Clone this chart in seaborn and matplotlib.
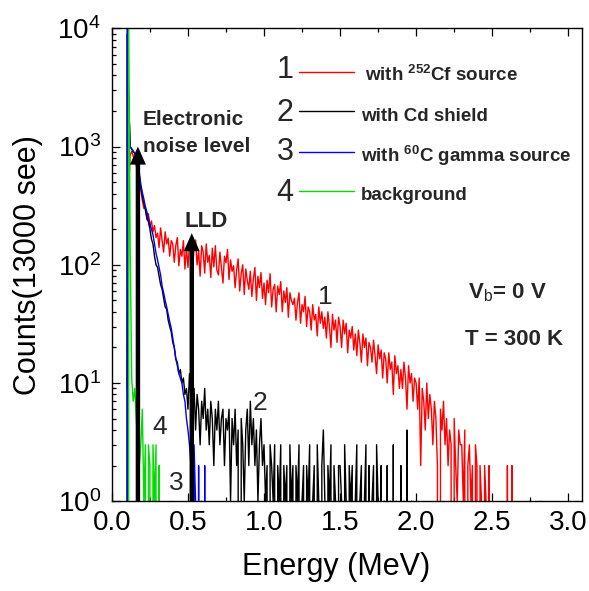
import numpy as np
import pandas as pd
import matplotlib
matplotlib.use("Agg")
import matplotlib.pyplot as plt
from matplotlib.ticker import MultipleLocator, LogLocator, FormatStrFormatter
import seaborn as sns

# ---------------- data ----------------
series_names = ["with 252Cf source", "with Cd shield", "with 60C gamma source", "background"]
series_colors = ["#ff0000", "#000000", "#0000ff", "#00dd00"]

# channel energies (MeV), 0.01 MeV channels
energy_red = np.round(np.arange(0.10, 2.855, 0.01), 2)
energy_black = np.round(np.arange(0.09, 3.085, 0.01), 2)
energy_blue = np.round(np.arange(0.09, 0.695, 0.01), 2)
energy_green = np.round(np.arange(0.09, 0.405, 0.01), 2)

counts_red = [
    9, 450, 850, 910, 830, 770, 690, 610, 530, 430,
    350, 300, 310, 240, 270, 210, 235, 190, 215, 170,
    185, 140, 205, 160, 128, 190, 150, 168, 118, 160,
    150, 105, 145, 170, 98, 135, 118, 160, 92, 140,
    95, 150, 125, 88, 140, 162, 100, 130, 80, 145,
    128, 85, 150, 105, 120, 78, 138, 96, 145, 90,
    82, 128, 95, 70, 118, 104, 135, 75, 110, 88,
    98, 64, 90, 112, 60, 84, 100, 56, 92, 74,
    62, 88, 54, 76, 95, 50, 80, 64, 86, 52,
    70, 46, 74, 58, 84, 44, 62, 68, 40, 66,
    56, 72, 40, 60, 48, 64, 36, 58, 50, 46,
    52, 34, 48, 58, 32, 46, 40, 54, 30, 44,
    40, 28, 46, 34, 38, 25, 44, 32, 40, 29,
    36, 24, 40, 30, 20, 38, 28, 34, 22, 36,
    30, 20, 34, 26, 32, 18, 28, 24, 30, 19,
    26, 17, 28, 22, 15, 26, 20, 24, 14, 22,
    20, 15, 23, 17, 12, 21, 16, 19, 11, 18,
    16, 10, 18, 13, 15, 8, 17, 12, 14, 9,
    13, 9, 15, 11, 6, 14, 10, 12, 7, 11,
    10, 6, 11, 2, 9, 7, 4, 10, 5, 8,
    6, 3, 7, 5, 2, 0, 6, 4, 7, 3,
    5, 2, 4, 3, 0, 5, 2, 1, 4, 3,
    3, 1, 4, 0, 2, 3, 1, 2, 0, 3,
    2, 0, 2, 1, 0, 2, 1, 0, 2, 0,
    0, 0, 0, 0, 0, 0, 0, 0, 0, 0,
    2, 0, 0, 2, 0, 0, 0, 0, 0, 0,
    0, 0, 0, 0, 0, 0, 0, 0, 0, 0,
    0, 0, 1, 0, 0, 0,
]

counts_black = [
    0,
    9000, 2500, 1000, 950, 900, 880, 820, 700, 560, 450,
    380, 330, 290, 250, 230, 200, 165, 150, 118, 100,
    95, 80, 68, 62, 52, 44, 42, 34, 30, 27,
    22, 20, 16, 15, 12, 13, 10, 11, 8, 9,
    6, 12, 7, 5, 9, 4, 8, 6, 3, 7,
    5, 9, 4, 6, 3, 7, 5, 2, 6, 4,
    7, 3, 5, 6, 2, 5, 4, 6, 1, 5,
    3, 6, 2, 4, 0, 5, 3, 1, 4, 6,
    2, 7, 3, 5, 2, 4, 1, 3, 5, 2,
    3, 1, 2, 0, 3, 2, 1, 3, 0, 2,
    1, 3, 0, 2, 1, 2, 0, 3, 1, 2,
    0, 2, 1, 3, 0, 1, 2, 0, 2, 1,
    3, 0, 1, 2, 0, 3, 1, 0, 2, 4,
    1, 0, 2, 1, 3, 0, 2, 1, 0, 2,
    2, 1, 0, 3, 1, 0, 2, 1, 2, 0,
    1, 3, 0, 1, 2, 0, 1, 3, 0, 2,
    0, 1, 2, 0, 3, 1, 0, 2, 0, 1,
    0, 2, 0, 1, 0, 3, 0, 1, 0, 0,
    2, 0, 1, 0, 4, 0, 0, 1, 0, 0,
    0, 0, 0, 0, 0, 0, 0, 0, 0, 0,
    0, 0, 0, 0, 0, 0, 0, 0, 0, 0,
    0, 0, 0, 0, 0, 0, 0, 0, 0, 0,
    0, 0, 0, 0, 0, 0, 0, 0, 0, 0,
    0, 0, 0, 0, 0, 0, 0, 0, 0, 0,
    0, 0, 0, 0, 0, 0, 0, 0, 0, 0,
    0, 0, 0, 0, 0, 0, 0, 0, 0, 0,
    0, 0, 0, 0, 0, 0, 0, 0, 0, 0,
    0, 0, 0, 0, 0, 0, 0, 0, 0, 0,
    0, 0, 0, 0, 0, 0, 0, 0, 0, 0,
    0, 0, 0, 0, 0, 0, 0, 0, 0,
]

counts_blue = [
    0,
    12000, 2600, 1000, 960, 920, 880, 830, 720, 600, 480,
    410, 360, 310, 280, 250, 220, 200, 180, 150, 125,
    110, 95, 82, 66, 58, 50, 44, 38, 33, 29,
    24, 20, 16, 14, 12, 11, 10, 8, 7, 5,
    4, 3, 2, 0, 3, 1, 0, 2, 0, 1,
    0, 2, 0, 0, 0, 0, 0, 0, 0, 0,
]

counts_green = [
    0, 0,
    12000, 140, 11, 7, 9, 5, 3, 2, 3,
    6, 1, 3, 0, 3, 2, 0, 3, 1, 3,
    0, 2, 0, 0, 0, 0, 0, 0, 0, 1,
    0,
]

legend_numbers = ["1", "2", "3", "4"]
legend_texts = [r"with $^{\mathbf{252}}$Cf source", "with Cd shield",
                r"with $^{\mathbf{60}}$C gamma source", "background"]

arrow_energy = [0.171, 0.525]
arrow_tip_counts = [1000, 185]

# ---------------- table ----------------
frames = []
for name, e, c in zip(series_names,
                      [energy_red, energy_black, energy_blue, energy_green],
                      [counts_red, counts_black, counts_blue, counts_green]):
    frames.append(pd.DataFrame({"energy": e, "counts": np.asarray(c, float), "series": name}))
df = pd.concat(frames, ignore_index=True)

# ---------------- style ----------------
sns.set_theme(style="ticks")
plt.rcParams["font.family"] = ["Liberation Sans", "DejaVu Sans"]
plt.rcParams["mathtext.fontset"] = "custom"
plt.rcParams["mathtext.rm"] = "Liberation Sans"
plt.rcParams["mathtext.bf"] = "Liberation Sans:bold"
plt.rcParams["mathtext.it"] = "Liberation Sans:italic"

fig = plt.figure(figsize=(5.89, 5.91), dpi=100)
ax = fig.add_axes([0.190, 0.152, 0.798, 0.800])

sns.lineplot(data=df, x="energy", y="counts", hue="series",
             hue_order=series_names, palette=dict(zip(series_names, series_colors)),
             estimator=None, errorbar=None, sort=False, legend=False,
             linewidth=1.0, ax=ax)

ax.set_yscale("log", nonpositive="clip")
ax.set_xlim(0, 3.09)
ax.set_ylim(1, 1e4)

ax.xaxis.set_major_locator(MultipleLocator(0.5))
ax.xaxis.set_minor_locator(MultipleLocator(0.25))
ax.xaxis.set_major_formatter(FormatStrFormatter("%.1f"))
ax.yaxis.set_major_locator(LogLocator(base=10, numticks=10))
ax.yaxis.set_minor_locator(LogLocator(base=10, subs=np.arange(2, 10), numticks=20))

ax.tick_params(axis="both", which="both", direction="in", top=True, right=False,
               colors="black", width=0.9)
ax.tick_params(axis="both", which="major", length=5.5)
ax.tick_params(axis="both", which="minor", length=3)
ax.tick_params(axis="x", which="major", labelsize=20, pad=6)
ax.tick_params(axis="y", which="major", labelsize=20, pad=8)
for s in ax.spines.values():
    s.set_color("black")
    s.set_linewidth(1.0)

ax.set_xlabel("Energy (MeV)", fontsize=22, color="black")
ax.set_ylabel("Counts(13000 see)", fontsize=22, color="black")
ax.xaxis.set_label_coords(0.477, -0.108)
ax.yaxis.set_label_coords(-0.147, 0.5)

# arrows
for e, tip in zip(arrow_energy, arrow_tip_counts):
    ax.annotate("", xy=(e, tip), xytext=(e, 1),
                arrowprops=dict(arrowstyle="simple,head_length=1.3,head_width=1.15,tail_width=0.32",
                                mutation_scale=10, color="black", lw=0,
                                shrinkA=0, shrinkB=0))

# annotations
ax.text(0.066, 0.795, "Electronic", transform=ax.transAxes, fontsize=15,
        fontweight="bold", ha="left", va="baseline")
ax.text(0.066, 0.738, "noise level", transform=ax.transAxes, fontsize=15,
        fontweight="bold", ha="left", va="baseline")
ax.text(0.155, 0.579, "LLD", transform=ax.transAxes, fontsize=16,
        fontweight="bold", ha="left", va="baseline")
ax.text(0.757, 0.429, r"V$_{\mathrm{b}}$= 0 V", transform=ax.transAxes, fontsize=16,
        fontweight="bold", ha="left", va="baseline")
ax.text(0.751, 0.330, "T = 300 K", transform=ax.transAxes, fontsize=16,
        fontweight="bold", ha="left", va="baseline")

# curve labels
for lab, fx, fy in zip(["1", "2", "3", "4"], [0.453, 0.315, 0.138, 0.102],
                       [0.431, 0.207, 0.038, 0.156]):
    ax.text(fx, fy, lab, transform=ax.transAxes, fontsize=19, ha="center", va="center")

# legend (manual)
leg_y_num = [0.911, 0.822, 0.738, 0.651]
leg_y_line = [0.907, 0.825, 0.738, 0.655]
leg_y_txt = [0.901, 0.814, 0.731, 0.647]
leg_x_txt = [0.538, 0.530, 0.530, 0.530]
for num, txt, col, yn, yl, yt, xt in zip(legend_numbers, legend_texts, series_colors,
                                         leg_y_num, leg_y_line, leg_y_txt, leg_x_txt):
    ax.text(0.368, yn, num, transform=ax.transAxes, fontsize=22, ha="center", va="center")
    ax.plot([0.398, 0.515], [yl, yl], transform=ax.transAxes, color=col, lw=1.0)
    ax.text(xt, yt, txt, transform=ax.transAxes, fontsize=13.5, fontweight="bold",
            ha="left", va="center")

fig.savefig("out.png", dpi=100, facecolor="white")
